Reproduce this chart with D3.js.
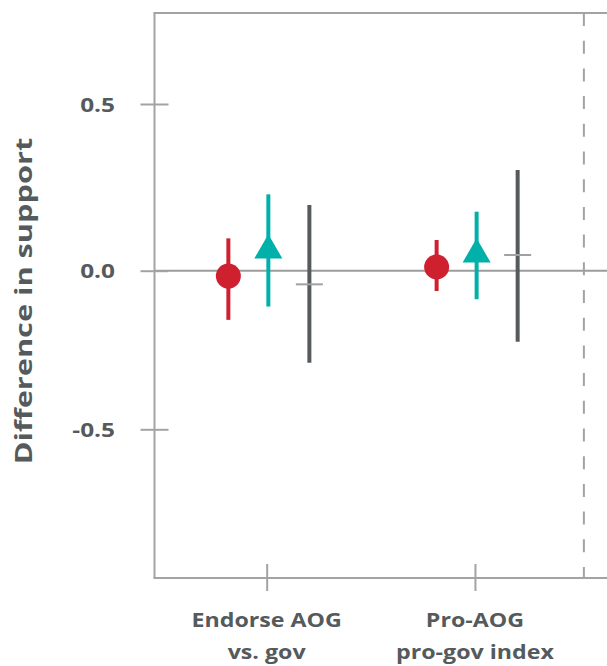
<!DOCTYPE html>
<html>
<head>
<meta charset="utf-8">
<script src="https://cdn.jsdelivr.net/npm/d3@7/dist/d3.min.js"></script>
<style>
  html, body { margin: 0; padding: 0; background: #ffffff; }
  svg { display: block; }
  text { font-family: "Open Sans", Lato, sans-serif; font-weight: 700; fill: #555a5c; }
</style>
</head>
<body>
<svg id="chart" width="607" height="666"></svg>
<script>
// Outcome categories (x positions 1 and 2)
const categories = [["Endorse AOG", "vs. gov"], ["Pro-AOG", "pro-gov index"]];
const categoryIndex = [1, 2];

// Y axis ticks
const yTicks = [-0.5, 0.0, 0.5];
const yTickLabels = ["-0.5", "0.0", "0.5"];

// Series 1 (red circles): estimate and interval per category
const redEst  = [-0.017, 0.011];
const redLow  = [-0.155, -0.064];
const redHigh = [0.097, 0.092];

// Series 2 (teal triangles)
const tealEst  = [0.061, 0.049];
const tealLow  = [-0.113, -0.090];
const tealHigh = [0.229, 0.177];

// Series 3 (dark grey bars with dash estimate)
const greyEst  = [-0.043, 0.047];
const greyLow  = [-0.290, -0.224];
const greyHigh = [0.197, 0.302];

// Reference line position on the x axis
const dashedX = 2.523;

const W = 607, H = 666;
const svg = d3.select("#chart");
svg.append("rect").attr("width", W).attr("height", H).attr("fill", "#ffffff");

const panelLeft = 154.5, panelTop = 13, panelBottom = 578;

const x = d3.scaleLinear().domain([0.4614, 2.634]).range([panelLeft, W]);
const y = d3.scaleLinear().domain([-0.5, 0, 0.5]).range([429.3, 270.7, 104]);

const axisGrey = "#a3a3a3";

// Widen text set in the fallback sans to the geometric face's proportions
function stretch(sel, factor) {
  sel.each(function () {
    const w = this.getComputedTextLength();
    d3.select(this).attr("textLength", w * factor).attr("lengthAdjust", "spacingAndGlyphs");
  });
}

// Panel frame: left, top and bottom edges
svg.append("line").attr("x1", panelLeft).attr("x2", panelLeft).attr("y1", panelTop).attr("y2", panelBottom)
  .attr("stroke", axisGrey).attr("stroke-width", 2);
svg.append("line").attr("x1", panelLeft - 1).attr("x2", W).attr("y1", panelTop).attr("y2", panelTop)
  .attr("stroke", axisGrey).attr("stroke-width", 2);
svg.append("line").attr("x1", panelLeft - 1).attr("x2", W).attr("y1", panelBottom).attr("y2", panelBottom)
  .attr("stroke", axisGrey).attr("stroke-width", 2);

// Zero reference line
svg.append("line").attr("x1", panelLeft).attr("x2", W).attr("y1", y(0)).attr("y2", y(0))
  .attr("stroke", "#9c9c9c").attr("stroke-width", 2);

// Dashed vertical reference line
svg.append("line").attr("x1", x(dashedX)).attr("x2", x(dashedX)).attr("y1", panelTop).attr("y2", panelBottom)
  .attr("stroke", axisGrey).attr("stroke-width", 2).attr("stroke-dasharray", "13,14.7");

// Y axis ticks and labels
const yAxis = d3.axisLeft(y).tickValues(yTicks)
  .tickFormat((d, i) => yTickLabels[i]).tickSize(14).tickPadding(25.5);
const gy = svg.append("g").attr("transform", `translate(${panelLeft},0)`).call(yAxis);
gy.select(".domain").remove();
gy.selectAll(".tick line").attr("x1", 14).attr("x2", -14).attr("stroke", axisGrey).attr("stroke-width", 2);
gy.selectAll(".tick text").attr("font-size", 20).attr("font-family", "'Open Sans', sans-serif")
  .attr("font-weight", 700).attr("fill", "#555a5c").attr("dy", "0.36em")
  .call(stretch, 1.22);

// X axis ticks and two-line labels
const xAxis = d3.axisBottom(x).tickValues(categoryIndex).tickFormat("").tickSize(13);
const gx = svg.append("g").attr("transform", `translate(0,${panelBottom})`).call(xAxis);
gx.select(".domain").remove();
gx.selectAll(".tick line").attr("y1", -14).attr("y2", 13).attr("stroke", axisGrey).attr("stroke-width", 2);
categories.forEach((lines, i) => {
  lines.forEach((ln, j) => {
    svg.append("text").attr("x", x(categoryIndex[i])).attr("y", 627 + j * 32)
      .attr("text-anchor", "middle").attr("font-size", 20).text(ln)
      .call(stretch, 1.16);
  });
});

// Y title
svg.append("text").attr("transform", "translate(32,301) rotate(-90)").attr("text-anchor", "middle")
  .attr("font-size", 24).text("Difference in support")
  .call(stretch, 1.28);

// Series dodge offsets
const dodge = { red: -0.184, teal: 0.008, grey: 0.205 };

function intervals(low, high, off, color) {
  categoryIndex.forEach((c, i) => {
    svg.append("line").attr("x1", x(c + off)).attr("x2", x(c + off))
      .attr("y1", y(low[i])).attr("y2", y(high[i]))
      .attr("stroke", color).attr("stroke-width", 4);
  });
}

// Dark grey series: interval with light dash at estimate
intervals(greyLow, greyHigh, dodge.grey, "#555a5c");
categoryIndex.forEach((c, i) => {
  svg.append("line").attr("x1", x(c + dodge.grey) - 13.5).attr("x2", x(c + dodge.grey) + 13.5)
    .attr("y1", y(greyEst[i])).attr("y2", y(greyEst[i]))
    .attr("stroke", "#a0a0a0").attr("stroke-width", 2);
});

// Red series: interval and circle
intervals(redLow, redHigh, dodge.red, "#cf2030");
categoryIndex.forEach((c, i) => {
  svg.append("circle").attr("cx", x(c + dodge.red)).attr("cy", y(redEst[i])).attr("r", 12.5)
    .attr("fill", "#cf2030");
});

// Teal series: interval and triangle centred on the estimate
intervals(tealLow, tealHigh, dodge.teal, "#00b0a9");
const side = 28, h = side * Math.sqrt(3) / 2;
categoryIndex.forEach((c, i) => {
  const cx = x(c + dodge.teal), cy = y(tealEst[i]);
  const pts = [[cx, cy - 2 * h / 3], [cx + side / 2, cy + h / 3], [cx - side / 2, cy + h / 3]];
  svg.append("polygon").attr("points", pts.map(p => p.join(",")).join(" ")).attr("fill", "#00b0a9");
});
</script>
</body>
</html>
